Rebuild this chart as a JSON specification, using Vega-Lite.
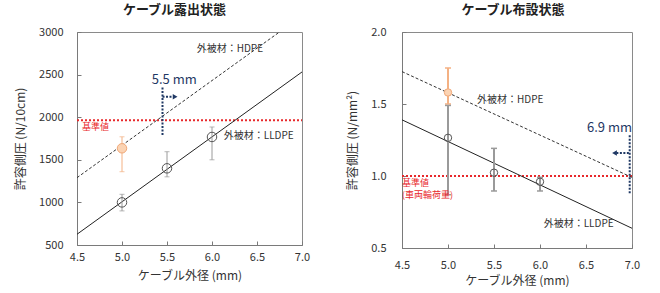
{
  "$schema": "https://vega.github.io/schema/vega-lite/v6.json",
  "background": "white",
  "padding": {"left": 13, "top": 3, "right": 2, "bottom": 0},
  "spacing": 34,
  "config": {
    "font": "Noto Sans CJK JP",
    "view": {"stroke": "#8a8a8a", "strokeWidth": 1},
    "axis": {
      "labelFontSize": 11, "titleFontSize": 12, "titleFontWeight": "normal",
      "labelColor": "#333", "titleColor": "#333",
      "domainColor": "#7a7a7a", "tickColor": "#7a7a7a", "tickSize": -4,
      "grid": false, "labelFlush": false, "labelOverlap": false
    },
    "title": {"fontSize": 13, "fontWeight": "bold", "color": "#222", "anchor": "middle"}
  },
  "hconcat": [
    {
      "width": 225, "height": 213,
      "title": {"text": "ケーブル露出状態", "dx": -15, "offset": 9},
      "encoding": {
        "x": {"field": "x", "type": "quantitative",
              "scale": {"domain": [4.5, 7.0], "nice": false, "zero": false},
              "axis": {"values": [4.5, 5.0, 5.5, 6.0, 6.5, 7.0], "format": ".1f", "title": "ケーブル外径 (mm)", "labelPadding": 10, "titlePadding": 8}},
        "y": {"field": "y", "type": "quantitative",
              "scale": {"domain": [500, 3000], "nice": false, "zero": false},
              "axis": {"values": [500, 1000, 1500, 2000, 2500, 3000], "format": "d", "title": "許容側圧 (N/10cm)", "labelPadding": 18, "titleX": -50}}
      },
      "layer": [
        {
          "data": {"values": [{"x": 4.5, "y": 1965}, {"x": 7.0, "y": 1965}]},
          "mark": {"type": "line", "color": "#e8282b", "strokeWidth": 2, "strokeDash": [2, 2]}
        },
        {
          "data": {"values": [{"x": 4.5, "y": 1290}, {"x": 6.75, "y": 3000}]},
          "mark": {"type": "line", "color": "#333", "strokeWidth": 1, "strokeDash": [3, 2]}
        },
        {
          "data": {"values": [{"x": 4.5, "y": 626}, {"x": 7.0, "y": 2531}]},
          "mark": {"type": "line", "color": "#222", "strokeWidth": 1}
        },
        {
          "data": {"name": "leftpts"},
          "mark": {"type": "rule", "strokeWidth": 1},
          "encoding": {
            "y": {"field": "lo", "type": "quantitative"},
            "y2": {"field": "hi"},
            "color": {"field": "s", "type": "nominal", "scale": {"domain": ["LLDPE", "HDPE"], "range": ["#9a9a9a", "#f4b183"]}, "legend": null}
          }
        },
        {
          "data": {"name": "leftpts"},
          "mark": {"type": "point", "shape": "M-1,0L1,0", "size": 25, "strokeWidth": 1, "filled": false},
          "encoding": {
            "y": {"field": "lo", "type": "quantitative"},
            "color": {"field": "s", "type": "nominal", "scale": {"domain": ["LLDPE", "HDPE"], "range": ["#9a9a9a", "#f4b183"]}, "legend": null}
          }
        },
        {
          "data": {"name": "leftpts"},
          "mark": {"type": "point", "shape": "M-1,0L1,0", "size": 25, "strokeWidth": 1, "filled": false},
          "encoding": {
            "y": {"field": "hi", "type": "quantitative"},
            "color": {"field": "s", "type": "nominal", "scale": {"domain": ["LLDPE", "HDPE"], "range": ["#9a9a9a", "#f4b183"]}, "legend": null}
          }
        },
        {
          "data": {"name": "leftpts"},
          "mark": {"type": "point", "shape": "circle", "size": 90, "strokeWidth": 1, "opacity": 1},
          "encoding": {
            "stroke": {"field": "s", "type": "nominal", "scale": {"domain": ["LLDPE", "HDPE"], "range": ["#555555", "#f0a878"]}, "legend": null},
            "fill": {"field": "s", "type": "nominal", "scale": {"domain": ["LLDPE", "HDPE"], "range": ["rgba(255,255,255,0)", "#fbd3b3"]}, "legend": null}
          }
        },
        {
          "data": {"values": [{"x": 5.45, "lo": 1790, "hi": 2360}]},
          "mark": {"type": "rule", "color": "#1f3864", "strokeWidth": 2, "strokeDash": [2, 1.5]},
          "encoding": {"y": {"field": "lo", "type": "quantitative"}, "y2": {"field": "hi"}}
        },
        {
          "data": {"values": [{"x": 5.45, "x2": 5.57, "y": 2240}]},
          "mark": {"type": "rule", "color": "#1f3864", "strokeWidth": 2, "strokeDash": [2, 1.5]},
          "encoding": {"x2": {"field": "x2"}}
        },
        {
          "data": {"values": [{"x": 5.59, "y": 2240}]},
          "mark": {"type": "point", "shape": "triangle-right", "size": 30, "filled": true, "color": "#1f3864", "opacity": 1}
        },
        {
          "data": {"values": [
            {"x": 5.83, "y": 2800, "t": "外被材：HDPE"},
            {"x": 6.13, "y": 1779, "t": "外被材：LLDPE"}
          ]},
          "mark": {"type": "text", "fontSize": 10, "color": "#333", "align": "left", "baseline": "middle"},
          "encoding": {"text": {"field": "t"}}
        },
        {
          "data": {"values": [{"x": 5.58, "y": 2437, "t": "5.5 mm"}]},
          "mark": {"type": "text", "fontSize": 13, "color": "#1f3864", "align": "center", "baseline": "middle"},
          "encoding": {"text": {"field": "t"}}
        },
        {
          "data": {"values": [{"x": 4.555, "y": 1885, "t": "基準値"}]},
          "mark": {"type": "text", "fontSize": 9, "color": "#e8282b", "align": "left", "baseline": "middle"},
          "encoding": {"text": {"field": "t"}}
        }
      ]
    },
    {
      "width": 230, "height": 216,
      "title": {"text": "ケーブル布設状態", "dx": -4, "offset": 9},
      "encoding": {
        "x": {"field": "x", "type": "quantitative",
              "scale": {"domain": [4.5, 7.0], "nice": false, "zero": false},
              "axis": {"values": [4.5, 5.0, 5.5, 6.0, 6.5, 7.0], "format": ".1f", "title": "ケーブル外径 (mm)", "labelPadding": 15, "titlePadding": 5}},
        "y": {"field": "y", "type": "quantitative",
              "scale": {"domain": [0.5, 2.0], "nice": false, "zero": false},
              "axis": {"values": [0.5, 1.0, 1.5, 2.0], "format": ".1f", "title": "許容側圧 (N/mm²)", "labelPadding": 20, "titleX": -43}}
      },
      "layer": [
        {
          "data": {"values": [{"x": 4.5, "y": 1.0}, {"x": 7.0, "y": 1.0}]},
          "mark": {"type": "line", "color": "#e8282b", "strokeWidth": 2, "strokeDash": [2, 2]}
        },
        {
          "data": {"values": [{"x": 4.5, "y": 1.725}, {"x": 7.0, "y": 0.99}]},
          "mark": {"type": "line", "color": "#333", "strokeWidth": 1, "strokeDash": [3, 2]}
        },
        {
          "data": {"values": [{"x": 4.5, "y": 1.39}, {"x": 7.0, "y": 0.637}]},
          "mark": {"type": "line", "color": "#222", "strokeWidth": 1}
        },
        {
          "data": {"name": "rightpts"},
          "mark": {"type": "rule", "strokeWidth": 2},
          "encoding": {
            "y": {"field": "lo", "type": "quantitative"},
            "y2": {"field": "hi"},
            "color": {"field": "s", "type": "nominal", "scale": {"domain": ["LLDPE", "HDPE"], "range": ["#333333", "#f4b183"]}, "legend": null}
          }
        },
        {
          "data": {"name": "rightpts"},
          "mark": {"type": "point", "shape": "M-1,0L1,0", "size": 36, "strokeWidth": 1.5, "filled": false, "opacity": 1},
          "encoding": {
            "y": {"field": "lo", "type": "quantitative"},
            "color": {"field": "s", "type": "nominal", "scale": {"domain": ["LLDPE", "HDPE"], "range": ["#333333", "#f4b183"]}, "legend": null}
          }
        },
        {
          "data": {"name": "rightpts"},
          "mark": {"type": "point", "shape": "M-1,0L1,0", "size": 36, "strokeWidth": 1.5, "filled": false, "opacity": 1},
          "encoding": {
            "y": {"field": "hi", "type": "quantitative"},
            "color": {"field": "s", "type": "nominal", "scale": {"domain": ["LLDPE", "HDPE"], "range": ["#333333", "#f4b183"]}, "legend": null}
          }
        },
        {
          "data": {"name": "rightpts"},
          "mark": {"type": "point", "shape": "circle", "size": 55, "strokeWidth": 1, "opacity": 1},
          "encoding": {
            "stroke": {"field": "s", "type": "nominal", "scale": {"domain": ["LLDPE", "HDPE"], "range": ["#444444", "#e8a070"]}, "legend": null},
            "fill": {"field": "s", "type": "nominal", "scale": {"domain": ["LLDPE", "HDPE"], "range": ["rgba(255,255,255,0)", "#fbd3b3"]}, "legend": null}
          }
        },
        {
          "data": {"values": [{"x": 6.975, "lo": 0.88, "hi": 1.285}]},
          "mark": {"type": "rule", "color": "#1f3864", "strokeWidth": 2, "strokeDash": [2, 1.5]},
          "encoding": {"y": {"field": "lo", "type": "quantitative"}, "y2": {"field": "hi"}}
        },
        {
          "data": {"values": [{"x": 6.83, "x2": 6.975, "y": 1.16}]},
          "mark": {"type": "rule", "color": "#1f3864", "strokeWidth": 2, "strokeDash": [2, 1.5]},
          "encoding": {"x2": {"field": "x2"}}
        },
        {
          "data": {"values": [{"x": 6.81, "y": 1.16}]},
          "mark": {"type": "point", "shape": "triangle-left", "size": 30, "filled": true, "color": "#1f3864", "opacity": 1}
        },
        {
          "data": {"values": [
            {"x": 5.315, "y": 1.528, "t": "外被材：HDPE"},
            {"x": 6.04, "y": 0.667, "t": "外被材：LLDPE"}
          ]},
          "mark": {"type": "text", "fontSize": 10, "color": "#333", "align": "left", "baseline": "middle"},
          "encoding": {"text": {"field": "t"}}
        },
        {
          "data": {"values": [{"x": 7.0, "y": 1.333, "t": "6.9 mm"}]},
          "mark": {"type": "text", "fontSize": 13, "color": "#1f3864", "align": "right", "baseline": "middle"},
          "encoding": {"text": {"field": "t"}}
        },
        {
          "data": {"values": [
            {"x": 4.5, "y": 0.951, "t": "基準値"},
            {"x": 4.5, "y": 0.868, "t": "(車両輪荷重)"}
          ]},
          "mark": {"type": "text", "fontSize": 9, "color": "#e8282b", "align": "left", "baseline": "middle"},
          "encoding": {"text": {"field": "t"}}
        }
      ]
    }
  ],
  "datasets": {
    "leftpts": [
      {"s": "LLDPE", "x": 5.0, "y": 1000, "lo": 900, "hi": 1095},
      {"s": "LLDPE", "x": 5.5, "y": 1400, "lo": 1300, "hi": 1595},
      {"s": "LLDPE", "x": 6.0, "y": 1768, "lo": 1500, "hi": 1885},
      {"s": "HDPE", "x": 5.0, "y": 1635, "lo": 1360, "hi": 1770}
    ],
    "rightpts": [
      {"s": "LLDPE", "x": 5.0, "y": 1.265, "lo": 0.87, "hi": 1.49},
      {"s": "LLDPE", "x": 5.5, "y": 1.023, "lo": 0.896, "hi": 1.192},
      {"s": "LLDPE", "x": 6.0, "y": 0.96, "lo": 0.896, "hi": 0.991},
      {"s": "HDPE", "x": 5.0, "y": 1.58, "lo": 1.5, "hi": 1.75}
    ]
  }
}
